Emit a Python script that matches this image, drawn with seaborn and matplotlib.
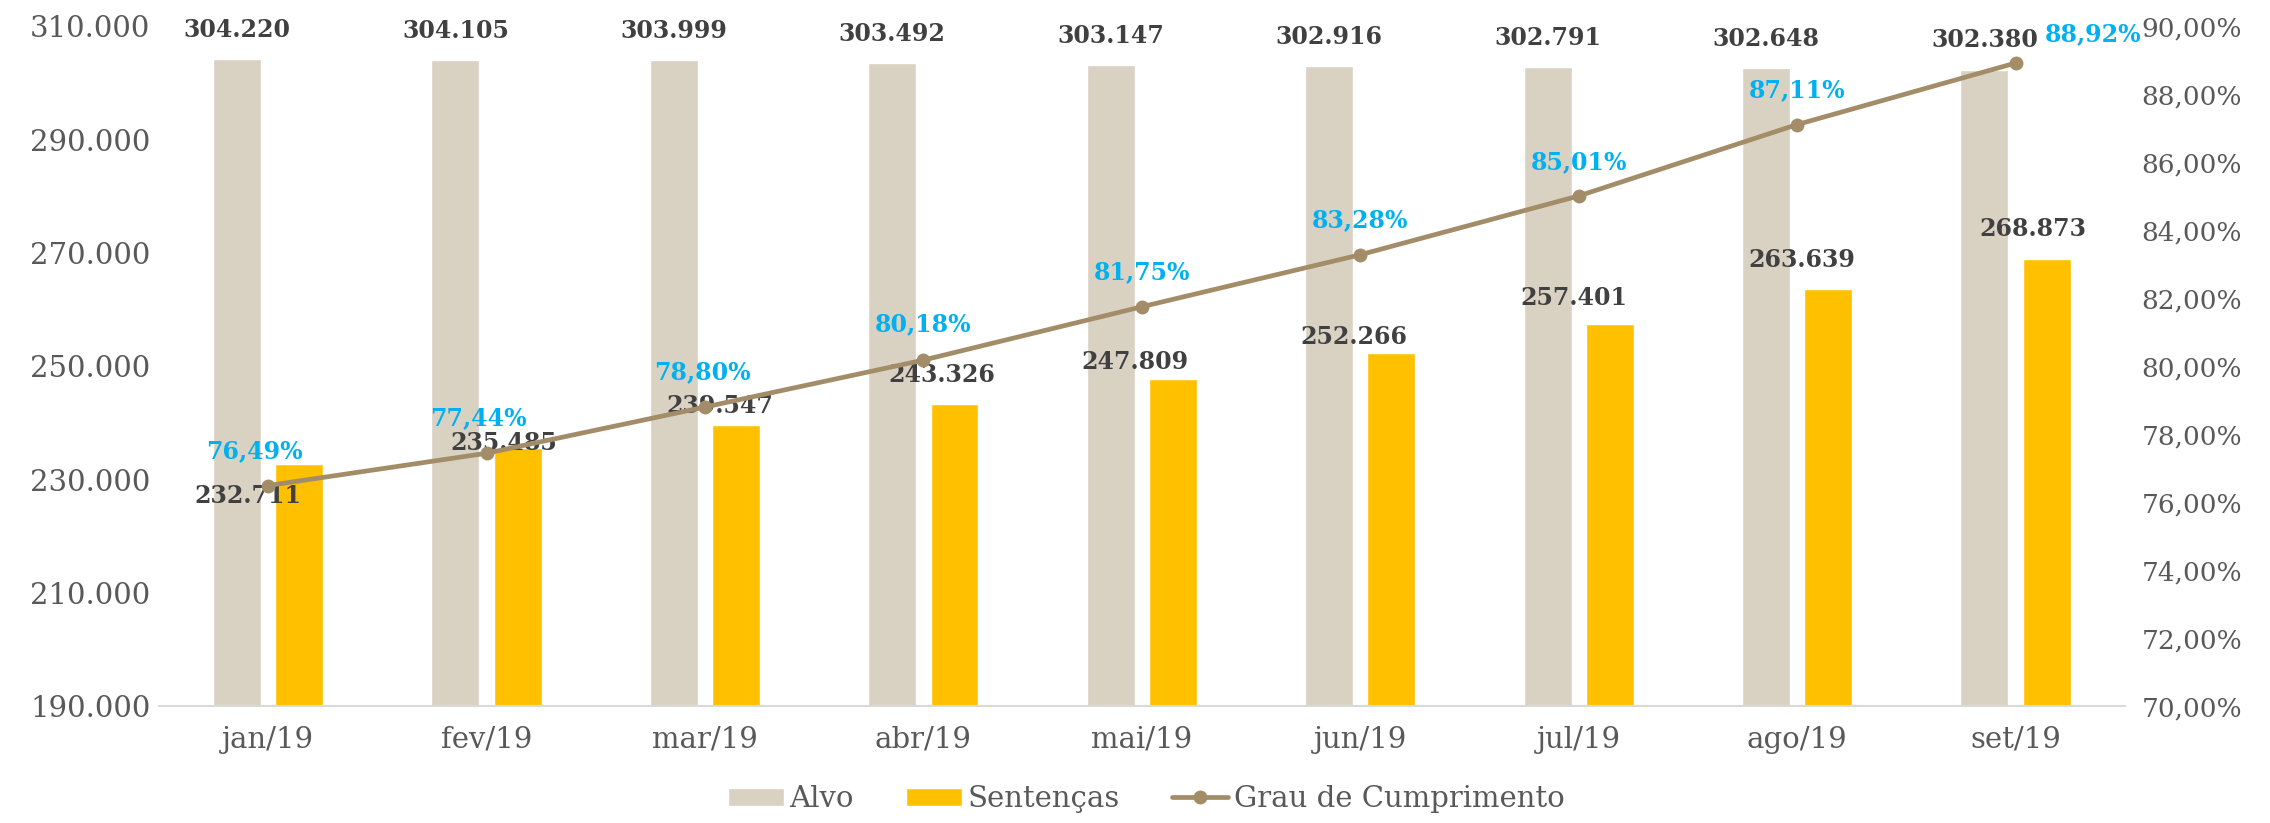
import pandas as pd
import matplotlib.pyplot as plt
import matplotlib.ticker as mticker
from matplotlib.patches import Patch
from matplotlib.lines import Line2D
import seaborn as sns

# ── data ────────────────────────────────────────────────────────────────
meses = ["jan/19", "fev/19", "mar/19", "abr/19", "mai/19",
         "jun/19", "jul/19", "ago/19", "set/19"]
alvo = [304220, 304105, 303999, 303492, 303147, 302916, 302791, 302648, 302380]
sentencas = [232711, 235485, 239547, 243326, 247809, 252266, 257401, 263639, 268873]
grau = [76.49, 77.44, 78.80, 80.18, 81.75, 83.28, 85.01, 87.11, 88.92]
y_ticks = [190000, 210000, 230000, 250000, 270000, 290000, 310000]

# ── colours ─────────────────────────────────────────────────────────────
C_ALVO = "#D9D2C3"
C_SENT = "#FFC000"
C_LINE = "#A38D68"
C_PCT = "#00B0F0"
C_LBL = "#404040"
C_TICK = "#595959"
C_AXIS = "#D9D9D9"

sns.set_style("white")
plt.rcParams["font.family"] = ["DejaVu Serif"]

df = pd.DataFrame({
    "mes": meses * 2,
    "valor": alvo + sentencas,
    "serie": ["Alvo"] * len(meses) + ["Sentenças"] * len(meses),
})

fig, ax = plt.subplots(figsize=(22.7, 8.23), dpi=100)
fig.subplots_adjust(left=0.070, right=0.936, bottom=0.142, top=0.968)

sns.barplot(data=df, x="mes", y="valor", hue="serie",
            palette={"Alvo": C_ALVO, "Sentenças": C_SENT},
            width=0.57, gap=0.23, saturation=1, legend=False, ax=ax)

ax.set_ylim(190000, 310000)
ax.set_xlim(-0.5, len(meses) - 0.5)
ax.set_yticks(y_ticks)
ax.yaxis.set_major_formatter(
    mticker.FuncFormatter(lambda v, _: f"{v:,.0f}".replace(",", ".")))
ax.set_xlabel("")
ax.set_ylabel("")
ax.tick_params(axis="both", length=0, labelsize=21, colors=C_TICK)
ax.tick_params(axis="x", pad=14)
ax.tick_params(axis="y", pad=6)
for s in ["top", "right", "left"]:
    ax.spines[s].set_visible(False)
ax.spines["bottom"].set_color(C_AXIS)
ax.spines["bottom"].set_linewidth(1.5)

# value labels
fmt = lambda v: f"{v:,.0f}".replace(",", ".")
for bar, v in zip(ax.containers[0], alvo):
    ax.annotate(fmt(v), (bar.get_x() + bar.get_width() / 2, v),
                xytext=(0, 21), textcoords="offset points",
                ha="center", va="center", fontsize=17, fontweight="bold",
                color=C_LBL)

sent_off = [(-37, -23), (-10, 4), (-12, 14), (-9, 21), (-27, 12),
            (-27, 12), (-26, 19), (-19, 21), (-10, 22)]
for bar, v, (dx, dy) in zip(ax.containers[1], sentencas, sent_off):
    ax.annotate(fmt(v), (bar.get_x() + bar.get_width() / 2, v),
                xytext=(dx, dy), textcoords="offset points",
                ha="center", va="center", fontsize=17, fontweight="bold",
                color=C_LBL, zorder=5)

# ── line on secondary axis ──────────────────────────────────────────────
ax2 = ax.twinx()
sns.lineplot(x=list(range(len(meses))), y=grau, color=C_LINE, linewidth=3.4,
             marker="o", markersize=10, markeredgewidth=0, ax=ax2)
ax2.set_ylim(70, 90)
ax2.yaxis.set_major_locator(mticker.MultipleLocator(2))
ax2.yaxis.set_major_formatter(
    mticker.FuncFormatter(lambda v, _: f"{v:.2f}%".replace(".", ",")))
ax2.tick_params(axis="y", length=0, labelsize=19, colors=C_TICK, pad=12)
for s in ["top", "right", "left", "bottom"]:
    ax2.spines[s].set_visible(False)

pct_off = [(-10, 25), (-6, 25), (-2, 25), (0, 26), (0, 25),
           (0, 25), (0, 24), (0, 25), (56, 21)]
for i, (g, (dx, dy)) in enumerate(zip(grau, pct_off)):
    ax2.annotate(f"{g:.2f}%".replace(".", ","), (i, g),
                 xytext=(dx, dy), textcoords="offset points",
                 ha="center", va="center", fontsize=17, fontweight="bold",
                 color=C_PCT)

# ── legend ──────────────────────────────────────────────────────────────
handles = [
    Patch(facecolor=C_ALVO, label="Alvo"),
    Patch(facecolor=C_SENT, label="Sentenças"),
    Line2D([0], [0], color=C_LINE, linewidth=3.4, marker="o", markersize=9,
           label="Grau de Cumprimento"),
]
leg = fig.legend(handles=handles, loc="lower center", ncol=3, frameon=False,
                 bbox_to_anchor=(0.505, -0.02), fontsize=21,
                 handlelength=1.9, handleheight=0.6, handletextpad=0.2,
                 columnspacing=1.8)
for t in leg.get_texts():
    t.set_color(C_TICK)

fig.savefig("out.png", dpi=100, facecolor="white")
